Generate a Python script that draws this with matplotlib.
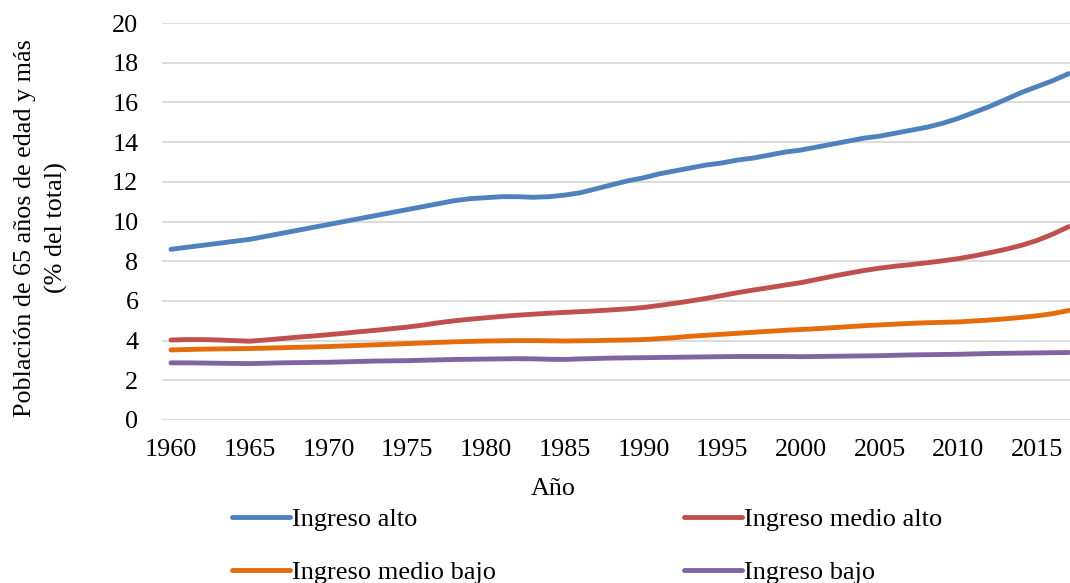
import numpy as np
import matplotlib.pyplot as plt

plt.rcParams["font.family"] = ["Liberation Serif", "DejaVu Serif"]

# Población de 65 años y más (% del total), por grupo de ingreso
years = np.arange(1960, 2018)

ingreso_alto = [
    8.60, 8.70, 8.80, 8.90, 9.00, 9.10, 9.25, 9.40, 9.55, 9.70,
    9.85, 10.00, 10.15, 10.30, 10.45, 10.60, 10.75, 10.90, 11.05, 11.15,
    11.20, 11.25, 11.25, 11.22, 11.25, 11.33, 11.45, 11.65, 11.85, 12.05,
    12.20, 12.40, 12.55, 12.70, 12.85, 12.95, 13.10, 13.20, 13.35, 13.50,
    13.60, 13.75, 13.90, 14.05, 14.20, 14.30, 14.45, 14.60, 14.75, 14.95,
    15.20, 15.50, 15.80, 16.15, 16.50, 16.80, 17.10, 17.45,
]
ingreso_medio_alto = [
    4.03, 4.05, 4.05, 4.03, 4.00, 3.97, 4.03, 4.10, 4.17, 4.23,
    4.30, 4.37, 4.45, 4.52, 4.60, 4.68, 4.78, 4.90, 5.00, 5.08,
    5.15, 5.22, 5.28, 5.33, 5.38, 5.42, 5.46, 5.50, 5.55, 5.60,
    5.67, 5.77, 5.88, 6.00, 6.13, 6.27, 6.42, 6.55, 6.67, 6.80,
    6.92, 7.08, 7.24, 7.39, 7.53, 7.65, 7.75, 7.83, 7.92, 8.02,
    8.13, 8.27, 8.43, 8.60, 8.80, 9.05, 9.37, 9.74,
]
ingreso_medio_bajo = [
    3.53, 3.55, 3.57, 3.58, 3.59, 3.60, 3.62, 3.64, 3.66, 3.68,
    3.70, 3.73, 3.76, 3.79, 3.82, 3.85, 3.88, 3.91, 3.94, 3.96,
    3.98, 3.99, 4.00, 4.00, 3.99, 3.98, 3.99, 4.00, 4.02, 4.03,
    4.05, 4.10, 4.15, 4.22, 4.27, 4.32, 4.37, 4.42, 4.47, 4.52,
    4.56, 4.60, 4.65, 4.70, 4.75, 4.79, 4.83, 4.87, 4.90, 4.92,
    4.94, 4.99, 5.04, 5.10, 5.17, 5.25, 5.36, 5.52,
]
ingreso_bajo = [
    2.88, 2.88, 2.87, 2.86, 2.85, 2.84, 2.86, 2.88, 2.89, 2.90,
    2.91, 2.93, 2.95, 2.97, 2.98, 2.99, 3.01, 3.03, 3.05, 3.06,
    3.07, 3.08, 3.09, 3.08, 3.06, 3.05, 3.08, 3.10, 3.12, 3.13,
    3.14, 3.15, 3.16, 3.17, 3.18, 3.19, 3.20, 3.20, 3.20, 3.20,
    3.19, 3.20, 3.21, 3.22, 3.23, 3.24, 3.26, 3.28, 3.29, 3.30,
    3.31, 3.33, 3.35, 3.36, 3.37, 3.38, 3.39, 3.40,
]

series = [
    ("Ingreso alto", ingreso_alto, "#4F81BD"),
    ("Ingreso medio alto", ingreso_medio_alto, "#C0504D"),
    ("Ingreso medio bajo", ingreso_medio_bajo, "#E46C0A"),
    ("Ingreso bajo", ingreso_bajo, "#8064A2"),
]

fig = plt.figure(figsize=(10.70, 5.83), dpi=100)
ax = fig.add_axes([162 / 1070, 1 - 420 / 583, 1 - 162 / 1070, (420 - 23) / 583])

lines = {}
for name, vals, color in series:
    (ln,) = ax.plot(years, vals, color=color, lw=3.5, solid_capstyle="round", label=name)
    lines[name] = ln

ax.set_xlim(1959.43, 2017.08)
ax.set_ylim(0, 20)
ax.set_yticks(np.arange(0, 21, 2))
ax.set_xticks(np.arange(1960, 2016, 5))
ax.grid(axis="y", color="#D9D9D9", lw=1.3)
ax.set_axisbelow(True)
for sp in ax.spines.values():
    sp.set_visible(False)
ax.tick_params(axis="both", length=0, labelsize=18.8)
ax.tick_params(axis="y", pad=17)
ax.tick_params(axis="x", pad=14)

fig.text(553 / 1070, 1 - 489 / 583, "Año", ha="center", va="center", fontsize=18.8)
fig.text(41 / 1070, 1 - 228 / 583, "Población de 65 años de edad y más\n(% del total)",
         rotation=90, ha="center", va="center", fontsize=18.8,
         multialignment="center", linespacing=1.45)

# orden por columnas: izquierda alto / medio bajo, derecha medio alto / bajo
order = ["Ingreso alto", "Ingreso medio bajo", "Ingreso medio alto", "Ingreso bajo"]
fig.legend([lines[k] for k in order], order, ncol=2, frameon=False,
           loc="upper left", bbox_to_anchor=(232 / 1070, 1 - 508 / 583),
           fontsize=19, handlelength=2.2, handletextpad=0.08,
           columnspacing=7.12, labelspacing=1.1, borderpad=0, borderaxespad=0)

fig.savefig("out.png", dpi=100)
